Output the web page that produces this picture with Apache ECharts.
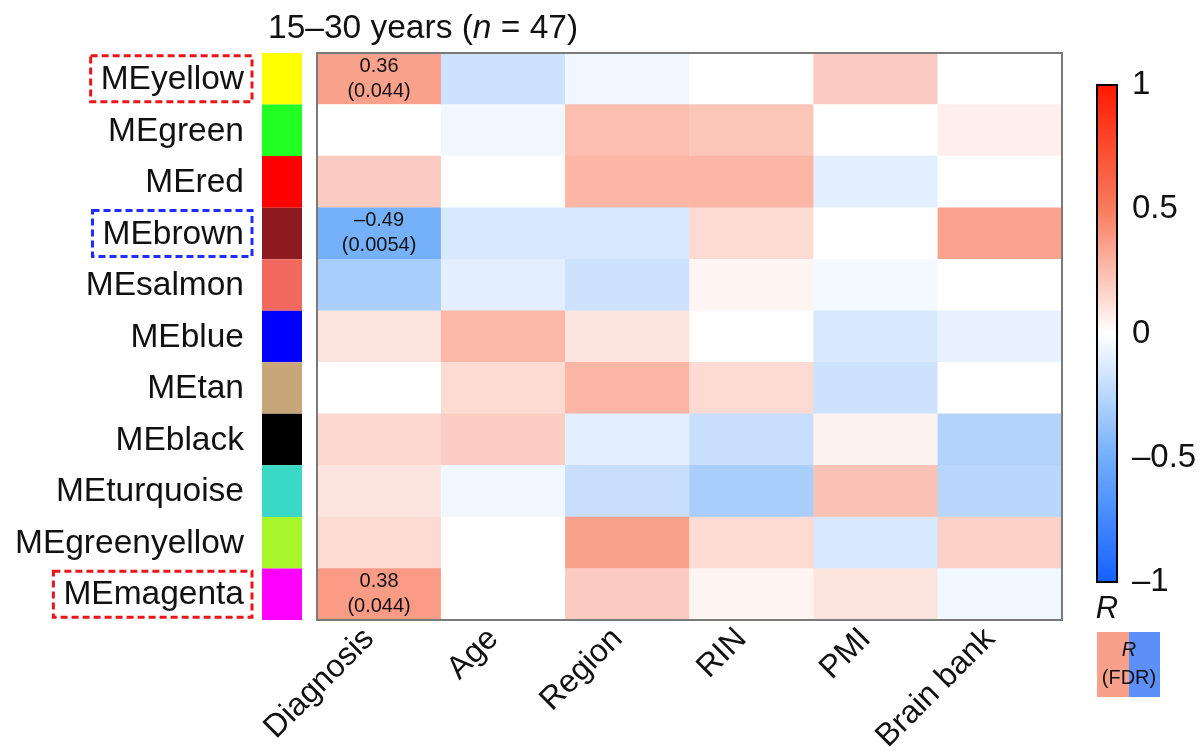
<!DOCTYPE html>
<html>
<head>
<meta charset="utf-8">
<script src="https://cdn.jsdelivr.net/npm/echarts@6/dist/echarts.min.js"></script>
<style>
  html, body { margin: 0; padding: 0; background: #fff; }
  #chart { width: 1200px; height: 752px; }
</style>
</head>
<body>
<div id="chart"></div>
<script>
// Module eigengenes (rows, top to bottom) and their module colours
const modules = ['MEyellow', 'MEgreen', 'MEred', 'MEbrown', 'MEsalmon', 'MEblue',
  'MEtan', 'MEblack', 'MEturquoise', 'MEgreenyellow', 'MEmagenta'];
const moduleColors = ['#ffff00', '#22ff22', '#ff0000', '#8e1b20', '#f2685e', '#0000ff',
  '#c8a67a', '#000000', '#3ad8c6', '#a8f52c', '#ff00ff'];

// Highlighted modules: dashed frame colour around the row label
const highlight = { MEyellow: 'red', MEbrown: 'blue', MEmagenta: 'red' };

// Traits (columns)
const traits = ['Diagnosis', 'Age', 'Region', 'RIN', 'PMI', 'Brain bank'];

// Correlation R of each module with each trait (one array per trait, row order as modules)
const rDiagnosis = [0.36, 0.00, 0.20, -0.49, -0.30, 0.10, 0.00, 0.15, 0.10, 0.14, 0.38];
const rAge       = [-0.18, -0.05, 0.00, -0.14, -0.10, 0.27, 0.14, 0.19, -0.05, 0.00, 0.00];
const rRegion    = [-0.05, 0.25, 0.28, -0.14, -0.18, 0.10, 0.28, -0.10, -0.20, 0.36, 0.20];
const rRIN       = [0.00, 0.22, 0.28, 0.14, 0.04, 0.00, 0.14, -0.20, -0.30, 0.14, 0.04];
const rPMI       = [0.20, 0.00, -0.10, 0.00, -0.04, -0.14, -0.18, 0.05, 0.23, -0.14, 0.10];
const rBrainBank = [0.00, 0.06, 0.00, 0.35, 0.00, -0.08, 0.00, -0.27, -0.25, 0.17, -0.05];

// FDR of the significant Diagnosis correlations (null = not shown)
const fdrDiagnosis = ['0.044', null, null, '0.0054', null, null, null, null, null, null, '0.044'];

const FONT = '"Liberation Sans", Arial, Helvetica, sans-serif';
const TEXT = '#111';

const traitValues = [rDiagnosis, rAge, rRegion, rRIN, rPMI, rBrainBank];
const traitFdr = [fdrDiagnosis, null, null, null, null, null];

const cells = [];
traitValues.forEach((vals, c) => {
  vals.forEach((v, r) => cells.push([c, r, v]));
});

const fmtNum = v => (v < 0 ? '\u2013' + String(Math.abs(v)) : String(v));

const chart = echarts.init(document.getElementById('chart'), null, { renderer: 'canvas' });

const LABEL_SIZE = 33.5;
const boxStyle = color => ({
  fontSize: LABEL_SIZE, fontFamily: FONT, color: TEXT,
  borderColor: color, borderWidth: 3, borderType: [7, 4],
  padding: [7, 8, 5, 10]
});

chart.setOption({
  animation: false,
  textStyle: { fontFamily: FONT },
  title: {
    text: '15\u201330 years ({i|n} = 47)',
    left: 263, top: 7,
    textStyle: {
      fontSize: 33.5, fontWeight: 'normal', color: TEXT, fontFamily: FONT,
      rich: { i: { fontSize: 33.5, fontStyle: 'italic', color: TEXT, fontFamily: FONT } }
    }
  },
  grid: [
    { left: 317, right: 138, top: 53, bottom: 132, show: true, z: 10, outerBoundsMode: 'none',
      containLabel: false,
      backgroundColor: 'transparent', borderColor: '#7a7a7a', borderWidth: 2 },
    { left: 262, width: 40, top: 53, bottom: 132, outerBoundsMode: 'none', containLabel: false },
    { left: 1097, width: 20, top: 85, height: 497, show: true, z: 10, outerBoundsMode: 'none',
      containLabel: false,
      backgroundColor: 'transparent', borderColor: '#000', borderWidth: 2 }
  ],
  xAxis: [
    {
      type: 'category', gridIndex: 0, data: traits,
      axisLine: { show: false }, axisTick: { show: false }, splitLine: { show: false },
      axisLabel: { rotate: 45, fontSize: 32, color: TEXT, margin: 4, interval: 0,
        fontFamily: FONT, padding: [0, 14, 0, 0] }
    },
    { type: 'value', gridIndex: 1, min: 0, max: 1, show: false },
    {
      type: 'value', gridIndex: 2, min: 0, max: 1,
      axisLine: { show: false }, axisTick: { show: false }, axisLabel: { show: false },
      splitLine: { show: false },
      name: 'R', nameLocation: 'middle', nameGap: 12,
      nameTextStyle: { fontSize: 31, fontStyle: 'italic', color: TEXT, fontFamily: FONT }
    }
  ],
  yAxis: [
    {
      type: 'category', gridIndex: 0, data: modules, inverse: true,
      axisLine: { show: false }, axisTick: { show: false }, axisLabel: { show: false },
      splitLine: { show: false }
    },
    {
      type: 'category', gridIndex: 1, data: modules, inverse: true,
      axisLine: { show: false }, axisTick: { show: false }, splitLine: { show: false },
      axisLabel: {
        margin: 10, interval: 0,
        formatter: v => '{' + (highlight[v] || 'plain') + '|' + v + '}',
        rich: {
          plain: { fontSize: LABEL_SIZE, fontFamily: FONT, color: TEXT, padding: [7, 8, 5, 10] },
          red: boxStyle('#e8161b'),
          blue: boxStyle('#1f2dff')
        }
      }
    },
    {
      type: 'value', gridIndex: 2, min: -1, max: 1, interval: 0.5, position: 'right',
      axisLine: { show: false }, splitLine: { show: false },
      axisTick: { show: true, length: 10, lineStyle: { color: '#000', width: 2 } },
      axisLabel: { fontSize: 33, color: TEXT, margin: 15, fontFamily: FONT, formatter: fmtNum }
    }
  ],
  visualMap: {
    type: 'continuous', seriesIndex: 0, min: -1, max: 1,
    orient: 'vertical', left: 1097, top: 85, padding: 0,
    itemWidth: 20, itemHeight: 497, calculable: false, text: null,
    showLabel: false, hoverLink: false,
    inRange: { color: ['#1462ff', '#72aefa', '#ffffff', '#f77c5e', '#ff1a00'] },
    textStyle: { color: 'transparent' }
  },
  series: [
    {
      type: 'heatmap', xAxisIndex: 0, yAxisIndex: 0, data: cells,
      itemStyle: { borderWidth: 0 },
      emphasis: { disabled: true },
      label: {
        show: true, fontSize: 20, lineHeight: 25, color: TEXT, fontFamily: FONT,
        formatter: p => {
          const [c, r, v] = p.data;
          const f = traitFdr[c] && traitFdr[c][r];
          return f ? fmtNum(v) + '\n(' + f + ')' : '';
        }
      }
    },
    {
      type: 'bar', xAxisIndex: 1, yAxisIndex: 1, barWidth: '100%', barCategoryGap: 0,
      silent: true,
      data: modules.map((m, i) => ({ value: 1, itemStyle: { color: moduleColors[i] } }))
    }
  ],
  graphic: [
    {
      type: 'group', left: 1097, top: 632,
      children: [
        { type: 'rect', shape: { x: 0, y: 0, width: 32, height: 65 }, style: { fill: '#f9a08a' } },
        { type: 'rect', shape: { x: 32, y: 0, width: 31, height: 65 }, style: { fill: '#5d8ff8' } },
        { type: 'text', x: 32, y: 8, style: { text: 'R', fontSize: 20, fontStyle: 'italic',
            fontFamily: FONT, fill: TEXT, align: 'center' } },
        { type: 'text', x: 32, y: 36, style: { text: '(FDR)', fontSize: 20,
            fontFamily: FONT, fill: TEXT, align: 'center' } }
      ]
    }
  ]
});
</script>
</body>
</html>
